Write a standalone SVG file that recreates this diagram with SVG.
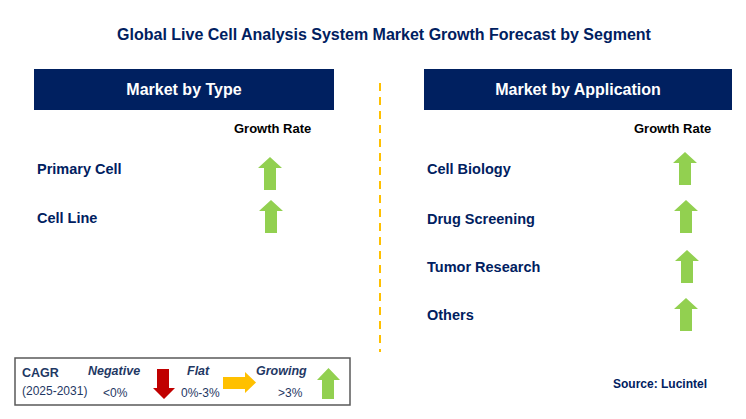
<svg xmlns="http://www.w3.org/2000/svg" width="746" height="419" viewBox="0 0 746 419">
<style>
text{font-family:"Liberation Sans",Arial,sans-serif;}
.title{font-size:16px;font-weight:bold;fill:#002060;}
.hdr{fill:#002060;}
.hdrt{font-size:16px;font-weight:bold;fill:#ffffff;}
.gr{font-size:13px;font-weight:bold;fill:#000000;}
.lbl{font-size:14.5px;font-weight:bold;fill:#002060;}
.up{fill:#92D050;}
.lg{font-size:12px;fill:#1F3864;}
.lgb{font-size:12.5px;font-weight:bold;fill:#1F3864;}
.lgi{font-size:12.5px;font-weight:bold;font-style:italic;fill:#1F3864;}
.src{font-size:12px;font-weight:bold;fill:#002060;}
</style>
<defs>
<path id="uparrow" d="M12 0 L24 11 L18 11 L18 33 L6 33 L6 11 L0 11 Z"/>
</defs>
<rect width="746" height="419" fill="#ffffff"/>
<text class="title" x="384" y="40" text-anchor="middle">Global Live Cell Analysis System Market Growth Forecast by Segment</text>

<g id="divider">
<line x1="380" y1="83" x2="380" y2="352" stroke="#FFC000" stroke-width="2" stroke-dasharray="8,6"/>
</g>

<g id="header-type">
<rect class="hdr" x="34" y="69" width="300" height="41"/>
<text class="hdrt" x="184" y="95" text-anchor="middle">Market by Type</text>
</g>
<g id="header-app">
<rect class="hdr" x="424" y="69" width="308" height="41"/>
<text class="hdrt" x="578" y="95" text-anchor="middle">Market by Application</text>
</g>

<g id="growth-rate-left"><text class="gr" x="234" y="133">Growth Rate</text></g>
<g id="growth-rate-right"><text class="gr" x="634" y="133">Growth Rate</text></g>

<g id="type-primary-cell">
<text class="lbl" x="37" y="174">Primary Cell</text>
<use href="#uparrow" class="up" x="258" y="157"/>
</g>
<g id="type-cell-line">
<text class="lbl" x="37" y="223">Cell Line</text>
<use href="#uparrow" class="up" x="259" y="200"/>
</g>

<g id="app-cell-biology">
<text class="lbl" x="427" y="174">Cell Biology</text>
<use href="#uparrow" class="up" x="673" y="152"/>
</g>
<g id="app-drug-screening">
<text class="lbl" x="427" y="224">Drug Screening</text>
<use href="#uparrow" class="up" x="674" y="200"/>
</g>
<g id="app-tumor-research">
<text class="lbl" x="427" y="272">Tumor Research</text>
<use href="#uparrow" class="up" x="675" y="250"/>
</g>
<g id="app-others">
<text class="lbl" x="427" y="320">Others</text>
<use href="#uparrow" class="up" x="674" y="298"/>
</g>

<g id="legend">
<rect x="15" y="358" width="335" height="47" fill="#ffffff" stroke="#595959" stroke-width="1.5"/>
<text class="lgb" x="22" y="377">CAGR</text>
<text class="lg" x="22" y="395">(2025-2031)</text>
<text class="lgi" x="88" y="375">Negative</text>
<text class="lg" x="103" y="397">&lt;0%</text>
<path d="M157 369 L169 369 L169 388 L175 388 L164 399 L153 388 L157 388 Z" fill="#C00000"/>
<text class="lgi" x="187" y="375">Flat</text>
<text class="lg" x="181" y="397">0%-3%</text>
<path d="M223 377 L245 377 L245 372 L256 382.5 L245 393 L245 389 L223 389 Z" fill="#FFC000"/>
<text class="lgi" x="256" y="375">Growing</text>
<text class="lg" x="278" y="397">&gt;3%</text>
<path d="M328.5 368 L340 380 L334 380 L334 399 L322 399 L322 380 L317 380 Z" fill="#92D050"/>
</g>

<g id="source"><text class="src" x="613" y="388">Source: Lucintel</text></g>
</svg>
